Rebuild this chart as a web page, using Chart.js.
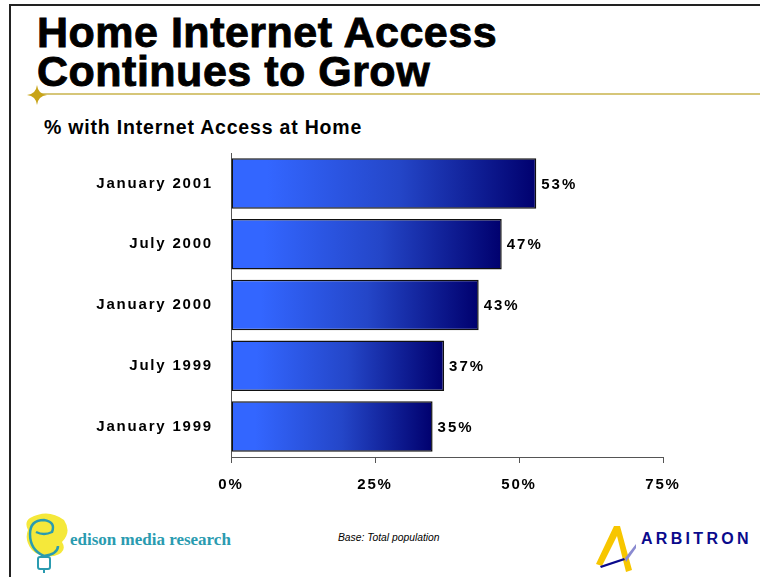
<!DOCTYPE html>
<html>
<head>
<meta charset="utf-8">
<script src="https://cdn.jsdelivr.net/npm/chart.js@4/dist/chart.umd.min.js"></script>
<style>
  html, body { margin: 0; padding: 0; background: #fff; }
  body { width: 760px; height: 577px; position: relative; overflow: hidden; font-family: "Liberation Sans", Arial, sans-serif; }
  #frameTop { position: absolute; left: 9px; top: 4px; width: 751px; height: 2px; background: #222; }
  #frameLeft { position: absolute; left: 9px; top: 4px; width: 2px; height: 573px; background: #222; }
  #title { position: absolute; left: 37px; top: 13px; font-size: 43px; font-weight: bold; line-height: 39px; color: #000; letter-spacing: 0.5px; -webkit-text-stroke: 0.9px #000; }
  #rule { position: absolute; left: 36px; top: 93px; width: 724px; height: 2px; background: #d6c679; }
  #star { position: absolute; left: 27px; top: 85px; }
  #subtitle { position: absolute; left: 44px; top: 116px; font-size: 19.5px; font-weight: bold; color: #000; letter-spacing: 0.8px; }
  #chartBox { position: absolute; left: 0; top: 126px; width: 760px; height: 374px; }
  #base { position: absolute; left: 338px; top: 532px; font-size: 10.3px; font-style: italic; color: #000; }
  #edison { position: absolute; left: 22px; top: 512px; }
  #edisonText { position: absolute; left: 70px; top: 530px; font-family: "Liberation Serif", "DejaVu Serif", serif; font-weight: bold; font-size: 17px; color: #2a9bb0; }
  #arbLogo { position: absolute; left: 592px; top: 522px; }
  #arbText { position: absolute; left: 641px; top: 530px; font-size: 16px; font-weight: bold; color: #0a0a8c; letter-spacing: 3.3px; }
</style>
</head>
<body>
<div id="frameTop"></div>
<div id="frameLeft"></div>
<div id="title">Home Internet Access<br>Continues to Grow</div>
<div id="rule"></div>
<svg id="star" width="20" height="20" viewBox="0 0 20 20"><path d="M10 0 Q11 9 20 10 Q11 11 10 20 Q9 11 0 10 Q9 9 10 0Z" fill="#c8a418"/></svg>
<div id="subtitle">% with Internet Access at Home</div>
<div id="chartBox"><canvas id="chart"></canvas></div>
<div id="base">Base: Total population</div>
<svg id="edison" width="50" height="62" viewBox="0 0 50 62">
  <path d="M8 6 Q26 -4 42 8 Q50 20 40 30 Q46 40 32 44 Q18 46 10 38 Q2 28 6 18 Q2 10 8 6Z" fill="#f5e83a"/>
  <path d="M22 44 Q8 38 8 22 Q8 8 22 8 Q34 10 30 20 Q22 24 14 20 M22 44 Q36 42 36 34" fill="none" stroke="#2a9bb0" stroke-width="2.5"/>
  <rect x="16" y="45" width="12" height="12" rx="2" fill="none" stroke="#2a9bb0" stroke-width="2"/>
  <line x1="22" y1="57" x2="22" y2="61" stroke="#2a9bb0" stroke-width="2"/>
</svg>
<div id="edisonText">edison media research</div>
<svg id="arbLogo" width="50" height="52" viewBox="0 0 50 52">
  <path d="M22 4 L28 4 L40 48 L34 50 L25 14 L10 44 L4 42Z" fill="#f7c600"/>
  <path d="M8 44 L32 36 L33 38 L9 46Z" fill="#0a0a8c"/>
  <path d="M33 36 L44 22 L44 26 L34 40Z" fill="#8a8ad0"/>
</svg>
<div id="arbText">ARBITRON</div>

<script>
// データ
const categories = ['January 2001', 'July 2000', 'January 2000', 'July 1999', 'January 1999'];
const accessPct = [53, 47, 43, 37, 35];
const tickValues = [0, 25, 50, 75];

const labelFont = { family: '"Liberation Sans", Arial, sans-serif', size: 15, weight: 'bold' };

// バーのグラデーション
function barGradient(context) {
    const chart = context.chart;
    const xs = chart.scales.x;
    if (!xs || context.dataIndex === undefined) return '#2244cc';
    const x0 = xs.getPixelForValue(0);
    const x1 = xs.getPixelForValue(accessPct[context.dataIndex]);
    if (!isFinite(x0) || !isFinite(x1) || x1 <= x0) return '#2244cc';
    const g = chart.ctx.createLinearGradient(x0, 0, x1, 0);
    g.addColorStop(0, '#3366ff');
    g.addColorStop(0.12, '#3366ff');
    g.addColorStop(0.55, '#2446c8');
    g.addColorStop(1, '#00006e');
    return g;
}

// 文字間隔
const spacingPlugin = {
    id: 'spacing',
    beforeDraw(chart) { chart.ctx.letterSpacing = '1.8px'; },
    afterDraw(chart) { chart.ctx.letterSpacing = '0px'; }
};

// 値ラベル
const valueLabels = {
    id: 'valueLabels',
    afterDatasetsDraw(chart) {
        const ctx = chart.ctx;
        const meta = chart.getDatasetMeta(0);
        ctx.save();
        ctx.letterSpacing = '2px';
        ctx.font = 'bold 15px "Liberation Sans", Arial, sans-serif';
        ctx.fillStyle = '#000';
        ctx.textAlign = 'left';
        ctx.textBaseline = 'middle';
        meta.data.forEach((bar, i) => {
            ctx.fillText(accessPct[i] + '%', bar.x + 5, bar.y + 1);
        });
        ctx.restore();
    }
};

const ctx = document.getElementById('chart').getContext('2d');
new Chart(ctx, {
    type: 'bar',
    data: {
        labels: categories,
        datasets: [{
            data: accessPct,
            backgroundColor: barGradient,
            borderColor: '#111',
            borderWidth: 1.5,
            borderSkipped: false,
            barPercentage: 0.83,
            categoryPercentage: 1
        }]
    },
    options: {
        indexAxis: 'y',
        responsive: true,
        maintainAspectRatio: false,
        animation: false,
        layout: { padding: { top: 5, right: 97, bottom: 0, left: 0 } },
        plugins: { legend: { display: false }, tooltip: { enabled: false } },
        scales: {
            x: {
                min: 0,
                max: 75,
                afterBuildTicks(scale) { scale.ticks = tickValues.map(v => ({ value: v })); },
                afterFit(scale) { scale.height = 43; },
                grid: { drawOnChartArea: false, drawTicks: true, tickLength: 6, color: '#555', lineWidth: 1 },
                border: { display: true, color: '#555', width: 1 },
                ticks: {
                    color: '#000',
                    font: labelFont,
                    padding: 13,
                    maxRotation: 0,
                    callback: v => v + '%'
                }
            },
            y: {
                afterFit(scale) { scale.width = 231; },
                grid: { display: false, drawTicks: false },
                border: { display: true, color: '#555', width: 1 },
                ticks: { color: '#000', font: labelFont, padding: 18 }
            }
        }
    },
    plugins: [spacingPlugin, valueLabels]
});
</script>
</body>
</html>
